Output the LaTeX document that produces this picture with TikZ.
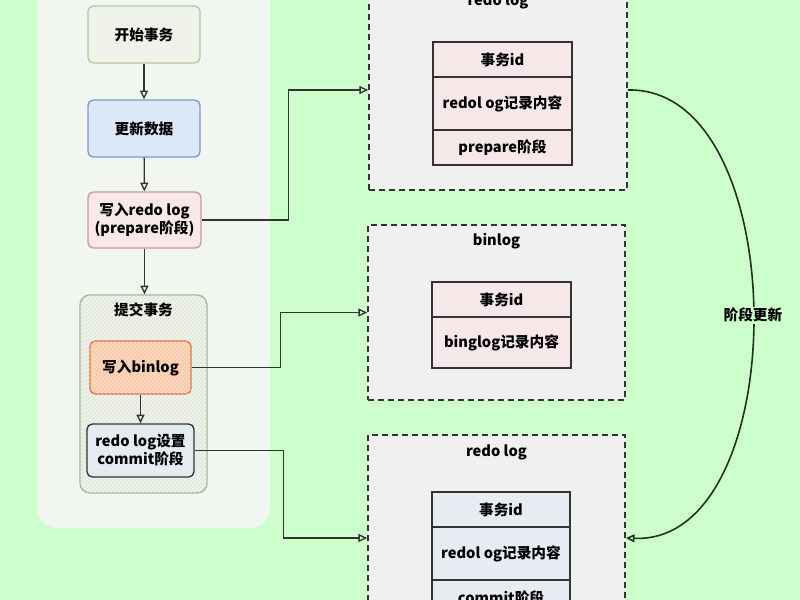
\documentclass[tikz,border=0pt]{standalone}
\usepackage{fontspec}
\setmainfont{Noto Sans CJK SC}
\usetikzlibrary{arrows.meta,patterns}

\definecolor{bgreen}{HTML}{CCFFCC}
\definecolor{panelc}{HTML}{F2F6F0}
\definecolor{startc}{HTML}{EEF2E8}
\definecolor{startd}{HTML}{B6C99E}
\definecolor{updc}{HTML}{DCE8F8}
\definecolor{updd}{HTML}{7A9CC6}
\definecolor{prepc}{HTML}{F8E8E6}
\definecolor{prepd}{HTML}{C49A9A}
\definecolor{commc}{HTML}{EEF2EC}
\definecolor{commd}{HTML}{9DB58A}
\definecolor{binc}{HTML}{FBD6B8}
\definecolor{bind}{HTML}{E0703C}
\definecolor{setc}{HTML}{E4ECF2}
\definecolor{groupc}{HTML}{F0F0F0}
\definecolor{pinkc}{HTML}{F6E8E8}
\definecolor{bluec}{HTML}{E6ECF2}
\definecolor{linec}{HTML}{333333}
\definecolor{curvec}{HTML}{1E321E}

\begin{document}
\begin{tikzpicture}[x=0.75pt,y=-0.75pt,
  font=\bfseries\fontsize{11}{13.5}\selectfont]
\tikzstyle{step box} = [rectangle, rounded corners=4pt, draw, line width=1pt, minimum width=84pt, minimum height=42.75pt, align=center, inner sep=1pt]
\tikzstyle{group} = [rectangle, draw=linec, dash pattern=on 4.5pt off 3pt, line width=1.3pt, fill=groupc, minimum width=193.5pt]
\tikzstyle{cell} = [rectangle, draw=linec, line width=1pt, minimum width=104.25pt]
\tikzstyle{edge} = [draw=linec, line width=1pt, -{Triangle[open,length=6.5pt,width=6pt]}]

\useasboundingbox[fill=bgreen] (0,0) rectangle (800,600);

% left panel
\fill[panelc, rounded corners=15pt] (37,-30) rectangle (270,528);

\node[step box, fill=startc, draw=startd] (ks) at (144,34.5) {开始事务};
\node[step box, fill=updc, draw=updd] (gx) at (144,128.5) {更新数据};
\node[step box, fill=prepc, draw=prepd, minimum width=84.75pt, minimum height=42pt] (wr) at (144.5,220) {写入redo log\\(prepare阶段)};
\node[step box, fill=commc, draw=commd, rounded corners=7.5pt, minimum width=95.25pt, minimum height=148.5pt,
  postaction={pattern=north east lines, pattern color=commd!40}] (tj) at (143.5,394) {};
\node (tjt) at (143.5,310) {提交事务};
\node[step box, fill=binc, draw=bind, minimum width=75.75pt, minimum height=39.75pt,
  postaction={pattern=north east lines, pattern color=bind!45}] (wb) at (140.5,367.5) {写入binlog};
\node[step box, fill=setc, draw=linec, minimum width=80.25pt, minimum height=39.75pt] (rc) at (140.5,450.5) {redo log设置\\commit阶段};

\draw[edge] (ks) to (gx);
\draw[edge] (gx) to (wr);
\draw[edge] (wr.south) to (wr.south |- tj.north);
\draw[edge] (wb) to (rc);

% right groups
\node[group, minimum height=150pt] (b1) at (498,90) {};
\node (b1t) at (498,1) {redo log};
\node[cell, fill=pinkc, minimum height=26.25pt] (b1a) at (502.5,59.5) {事务id};
\node[cell, fill=pinkc, minimum height=39.75pt] (b1b) at (502.5,103.5) {redol og记录内容};
\node[cell, fill=pinkc, minimum height=26.25pt] (b1c) at (502.5,147.5) {prepare阶段};

\node[group, minimum width=192.75pt, minimum height=131.25pt] (b2) at (496.5,312.5) {};
\node (b2t) at (496.5,241) {binlog};
\node[cell, fill=pinkc, minimum height=26.25pt] (b2a) at (501.5,299.5) {事务id};
\node[cell, fill=pinkc, minimum height=38.25pt] (b2b) at (501.5,342.5) {binglog记录内容};

\node[group, minimum width=192.75pt, minimum height=154.5pt] (b3) at (496.5,538) {};
\node (b3t) at (496.5,452) {redo log};
\node[cell, fill=bluec, minimum width=103.5pt, minimum height=26.25pt] (b3a) at (501,509.5) {事务id};
\node[cell, fill=bluec, minimum width=103.5pt, minimum height=39.75pt] (b3b) at (501,553.5) {redol og记录内容};
\node[cell, fill=bluec, minimum width=103.5pt, minimum height=26.25pt] (b3c) at (501,597.5) {commit阶段};

\draw[edge] (wr.east) -- ++(87,0) |- (b1.west);
\draw[edge] (wb.east) -- ++(89,0) |- (b2.west);
\draw[edge] (rc.east) -- ++(89,0) |- (b3.west);

\draw[edge, draw=curvec, line width=1.2pt] (b1.east) .. controls (795,86) and (795,545) .. node[fill=bgreen, inner sep=1pt] (jd) {阶段更新} (b3.east);
\end{tikzpicture}
\end{document}
